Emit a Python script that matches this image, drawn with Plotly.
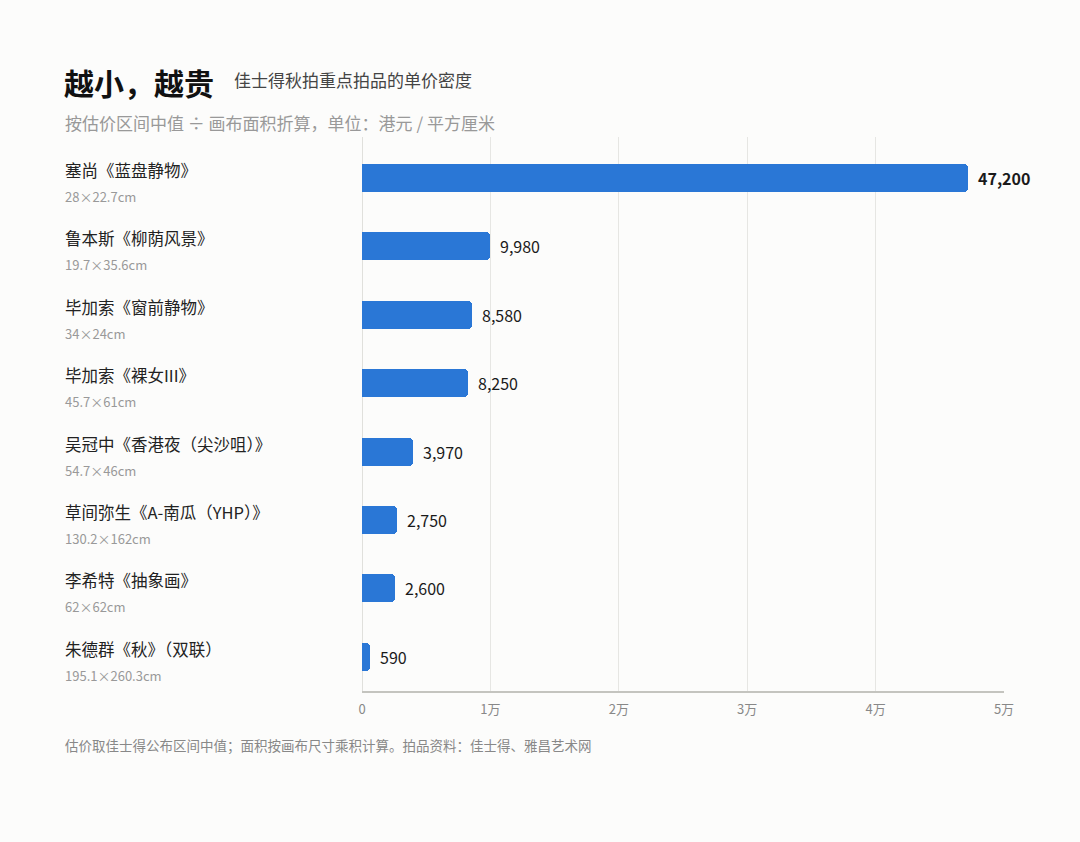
import plotly.graph_objects as go

works = ["塞尚《蓝盘静物》", "鲁本斯《柳荫风景》", "毕加索《窗前静物》", "毕加索《裸女III》",
         "吴冠中《香港夜（尖沙咀）》", "草间弥生《A-南瓜（YHP）》", "李希特《抽象画》", "朱德群《秋》（双联）"]
sizes = ["28×22.7cm", "19.7×35.6cm", "34×24cm", "45.7×61cm",
         "54.7×46cm", "130.2×162cm", "62×62cm", "195.1×260.3cm"]
density = [47200, 9980, 8580, 8250, 3970, 2750, 2600, 590]
tick_vals = [0, 10000, 20000, 30000, 40000, 50000]
tick_text = ["0", "1万", "2万", "3万", "4万", "5万"]

FONT = "Noto Sans CJK SC"
BLUE = "#2a77d6"

pos = list(range(len(works)))

fig = go.Figure()
fig.add_trace(go.Bar(
    x=density, y=pos, orientation="h",
    marker=dict(color=BLUE, cornerradius=4, line_width=0),
    width=0.41, hoverinfo="skip",
))

# value labels just past the bar ends
for i, v in enumerate(density):
    txt = f"<b>{v:,}</b>" if i == 0 else f"{v:,}"
    fig.add_annotation(x=v, y=i, xref="x", yref="y", text=txt, showarrow=False,
                       xanchor="left", yanchor="middle", xshift=8,
                       font=dict(family=FONT, size=16, color="#1a1a1a"))

# left-hand labels: work name + canvas size
for i, (w, s) in enumerate(zip(works, sizes)):
    fig.add_annotation(x=63, xref="paper", y=i, yref="y", text=w, showarrow=False,
                       xanchor="left", yanchor="bottom", yshift=-6,
                       font=dict(family=FONT, size=16.5, color="#222"))
    fig.add_annotation(x=63, xref="paper", y=i, yref="y", text=s, showarrow=False,
                       xanchor="left", yanchor="top", yshift=-7,
                       font=dict(family=FONT, size=13, color="#999"))

fig.add_annotation(x=62, y=82, xref="paper", yref="paper", text="<b>越小，越贵</b>", showarrow=False,
                   xanchor="left", yanchor="middle", font=dict(family=FONT, size=30, color="#111"))
fig.add_annotation(x=232, y=79, xref="paper", yref="paper", text="佳士得秋拍重点拍品的单价密度",
                   showarrow=False, xanchor="left", yanchor="middle",
                   font=dict(family=FONT, size=17, color="#444"))
fig.add_annotation(x=63, y=122, xref="paper", yref="paper",
                   text="按估价区间中值 ÷ 画布面积折算，单位：港元 / 平方厘米",
                   showarrow=False, xanchor="left", yanchor="middle",
                   font=dict(family=FONT, size=17, color="#999"))
fig.add_annotation(x=63, y=745, xref="paper", yref="paper",
                   text="估价取佳士得公布区间中值；面积按画布尺寸乘积计算。拍品资料：佳士得、雅昌艺术网",
                   showarrow=False, xanchor="left", yanchor="middle",
                   font=dict(family=FONT, size=13.5, color="#888"))

# convert pixel-based annotation coords into paper coords
W, H = 1080, 842
ML, MR, MT, MB = 362, 1080 - 1004, 137, 842 - 691
pw, ph = W - ML - MR, H - MT - MB
for a in fig.layout.annotations:
    if a.xref == "paper":
        a.x = (a.x - ML) / pw
    if a.yref == "paper":
        a.y = 1 - (a.y - MT) / ph

fig.update_layout(
    width=W, height=H,
    margin=dict(l=ML, r=MR, t=MT, b=MB),
    paper_bgcolor="#fcfcfb", plot_bgcolor="#fcfcfb",
    showlegend=False, bargap=0,
    font=dict(family=FONT),
    xaxis=dict(range=[0, 50000], tickvals=tick_vals, ticktext=tick_text,
               showgrid=True, gridcolor="#e6e6e3", gridwidth=1,
               zeroline=True, zerolinecolor="#e0e0dc", zerolinewidth=1,
               showline=True, linecolor="#c4c4bf", linewidth=2, mirror=False,
               ticks="", ticklen=0, ticklabelstandoff=5,
               tickfont=dict(family=FONT, size=13, color="#888"),
               fixedrange=True),
    yaxis=dict(range=[7.5, -0.6], showticklabels=False, showgrid=False,
               zeroline=False, showline=False, fixedrange=True),
)

fig.write_html("out.html", config={"displayModeBar": False},
               post_script="document.body.style.margin='0';document.body.style.background='#fcfcfb';")
